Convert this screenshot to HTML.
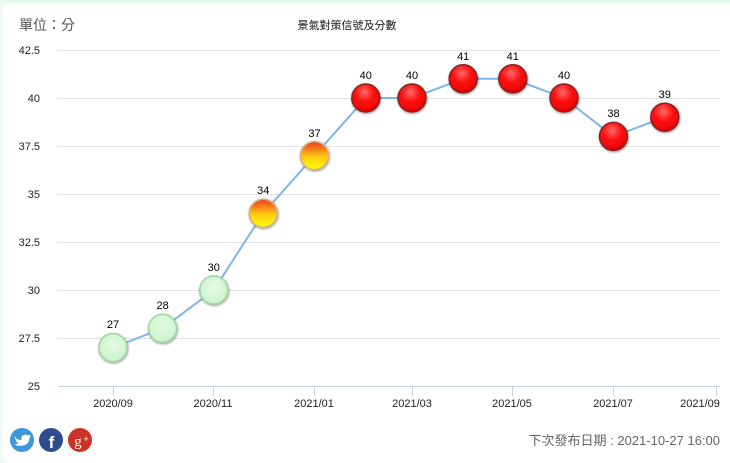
<!DOCTYPE html>
<html><head><meta charset="utf-8">
<style>
html,body{margin:0;padding:0;}
body{width:730px;height:455px;overflow:hidden;background:#eef9f1;position:relative;font-family:"Liberation Sans","Noto Sans CJK TC",sans-serif;}
.card{position:absolute;left:3px;top:3px;width:740px;height:460px;background:#fff;border-radius:7px;}
.top{position:absolute;left:0;top:0;width:730px;height:3px;background:#e3f8ec;}
</style></head><body>
<div class="top"></div>
<div class="card"></div>
<svg width="730" height="455" style="position:absolute;left:0;top:0" xmlns="http://www.w3.org/2000/svg">
<defs>
<radialGradient id="red" cx="0.45" cy="0.3" r="0.75">
<stop offset="0" stop-color="#ff6a6a"/><stop offset="0.45" stop-color="#ff1010"/><stop offset="1" stop-color="#e00000"/>
</radialGradient>
<linearGradient id="yel" x1="0" y1="0" x2="0" y2="1">
<stop offset="0" stop-color="#ee3a1e"/><stop offset="0.55" stop-color="#ffcc10"/><stop offset="1" stop-color="#ffff00"/>
</linearGradient>
<radialGradient id="grn" cx="0.5" cy="0.4" r="0.7">
<stop offset="0" stop-color="#e2fbe2"/><stop offset="1" stop-color="#c8f2c8"/>
</radialGradient>
<filter id="sh" x="-30%" y="-30%" width="160%" height="160%">
<feGaussianBlur in="SourceAlpha" stdDeviation="1.2"/><feOffset dx="0.5" dy="1" result="b"/>
<feComponentTransfer><feFuncA type="linear" slope="0.45"/></feComponentTransfer>
<feMerge><feMergeNode/><feMergeNode in="SourceGraphic"/></feMerge>
</filter>
</defs>
<text x="19" y="30" font-size="14" fill="#555" font-family="Liberation Sans, Noto Sans CJK TC, sans-serif">單位：分</text>
<text x="347" y="29" font-size="11" fill="#111" text-anchor="middle" font-family="Liberation Sans, Noto Sans CJK TC, sans-serif">景氣對策信號及分數</text>
<g stroke="#e2e2e2" stroke-width="1">
<line x1="58" y1="50.5" x2="720" y2="50.5"/>
<line x1="58" y1="98.5" x2="720" y2="98.5"/>
<line x1="58" y1="146.5" x2="720" y2="146.5"/>
<line x1="58" y1="194.5" x2="720" y2="194.5"/>
<line x1="58" y1="242.5" x2="720" y2="242.5"/>
<line x1="58" y1="290.5" x2="720" y2="290.5"/>
<line x1="58" y1="338.5" x2="720" y2="338.5"/>
</g>
<line x1="58" y1="386.5" x2="720" y2="386.5" stroke="#c4d2e4" stroke-width="1"/>
<g stroke="#c4d2e4" stroke-width="1">
<line x1="113.5" y1="386" x2="113.5" y2="396"/>
<line x1="213.5" y1="386" x2="213.5" y2="396"/>
<line x1="314.5" y1="386" x2="314.5" y2="396"/>
<line x1="412.5" y1="386" x2="412.5" y2="396"/>
<line x1="512.5" y1="386" x2="512.5" y2="396"/>
<line x1="613.5" y1="386" x2="613.5" y2="396"/>
<line x1="716.5" y1="386" x2="716.5" y2="396"/>
</g>
<g font-size="11" fill="#222" text-anchor="end">
<text x="40" y="54">42.5</text>
<text x="40" y="102">40</text>
<text x="40" y="150">37.5</text>
<text x="40" y="198">35</text>
<text x="40" y="246">32.5</text>
<text x="40" y="294">30</text>
<text x="40" y="342">27.5</text>
<text x="40" y="390">25</text>
</g>
<g font-size="11" fill="#222" text-anchor="middle">
<text x="113" y="407">2020/09</text>
<text x="213" y="407">2020/11</text>
<text x="314" y="407">2021/01</text>
<text x="412" y="407">2021/03</text>
<text x="512" y="407">2021/05</text>
<text x="613" y="407">2021/07</text>
<text x="700" y="407">2021/09</text>
</g>
<polyline fill="none" stroke="#7cb5ec" stroke-width="2" points="113,347.6 162.6,328.4 213.8,290 263.3,213.2 314.5,155.6 365.8,98 412,98 463.2,78.8 512.8,78.8 564,98 613.5,136.4 664.8,117.2"/>
<g filter="url(#sh)" stroke-width="1.5">
<circle cx="113" cy="347.6" r="14" fill="url(#grn)" stroke="#9fd69f"/>
<circle cx="162.6" cy="328.4" r="14" fill="url(#grn)" stroke="#9fd69f"/>
<circle cx="213.8" cy="290" r="14" fill="url(#grn)" stroke="#9fd69f"/>
<circle cx="263.3" cy="213.2" r="14" fill="url(#yel)" stroke="#d8b080"/>
<circle cx="314.5" cy="155.6" r="14" fill="url(#yel)" stroke="#d8b080"/>
<circle cx="365.8" cy="98" r="14" fill="url(#red)" stroke="#8a2020"/>
<circle cx="412" cy="98" r="14" fill="url(#red)" stroke="#8a2020"/>
<circle cx="463.2" cy="78.8" r="14" fill="url(#red)" stroke="#8a2020"/>
<circle cx="512.8" cy="78.8" r="14" fill="url(#red)" stroke="#8a2020"/>
<circle cx="564" cy="98" r="14" fill="url(#red)" stroke="#8a2020"/>
<circle cx="613.5" cy="136.4" r="14" fill="url(#red)" stroke="#8a2020"/>
<circle cx="664.8" cy="117.2" r="14" fill="url(#red)" stroke="#8a2020"/>
</g>
<g font-size="11" fill="#000" text-anchor="middle">
<text x="113" y="328">27</text>
<text x="162.6" y="309">28</text>
<text x="213.8" y="271">30</text>
<text x="263.3" y="194">34</text>
<text x="314.5" y="137">37</text>
<text x="365.8" y="79">40</text>
<text x="412" y="79">40</text>
<text x="463.2" y="60">41</text>
<text x="512.8" y="60">41</text>
<text x="564" y="79">40</text>
<text x="613.5" y="117">38</text>
<text x="664.8" y="98">39</text>
</g>
<!-- social icons -->
<circle cx="22" cy="440" r="12" fill="#3a98d8"/>
<path d="M14.5,437 q3,3 7,3 q-1,-5 4,-5.5 q1.5,0 2.5,1 l2.5,-1 l-1.2,2 l2,-0.5 l-1.8,1.8 q0,7 -8,8 q-4,0.5 -7.5,-1.5 q3,0 5,-1.5 q-2.5,0 -3.3,-2.3 l1.5,0 q-2.5,-1 -2.5,-3.3 l1.3,0.5 q-1.8,-1.5 -0.5,-3.2z" fill="#fff"/>
<circle cx="51" cy="440" r="12" fill="#2f4b8c"/>
<text x="51.5" y="448" font-size="17" font-weight="bold" fill="#fff" text-anchor="middle">f</text>
<circle cx="80" cy="440" r="12" fill="#cc3328"/>
<text x="78" y="446" font-size="15" fill="#fff" text-anchor="middle" font-family="Liberation Serif, serif">g</text>
<text x="86" y="442" font-size="9" fill="#fff" text-anchor="middle">+</text>
<text x="720" y="445" font-size="13" fill="#666" text-anchor="end" font-family="Liberation Sans, Noto Sans CJK TC, sans-serif">下次發布日期 : 2021-10-27 16:00</text>
</svg>
</body></html>
